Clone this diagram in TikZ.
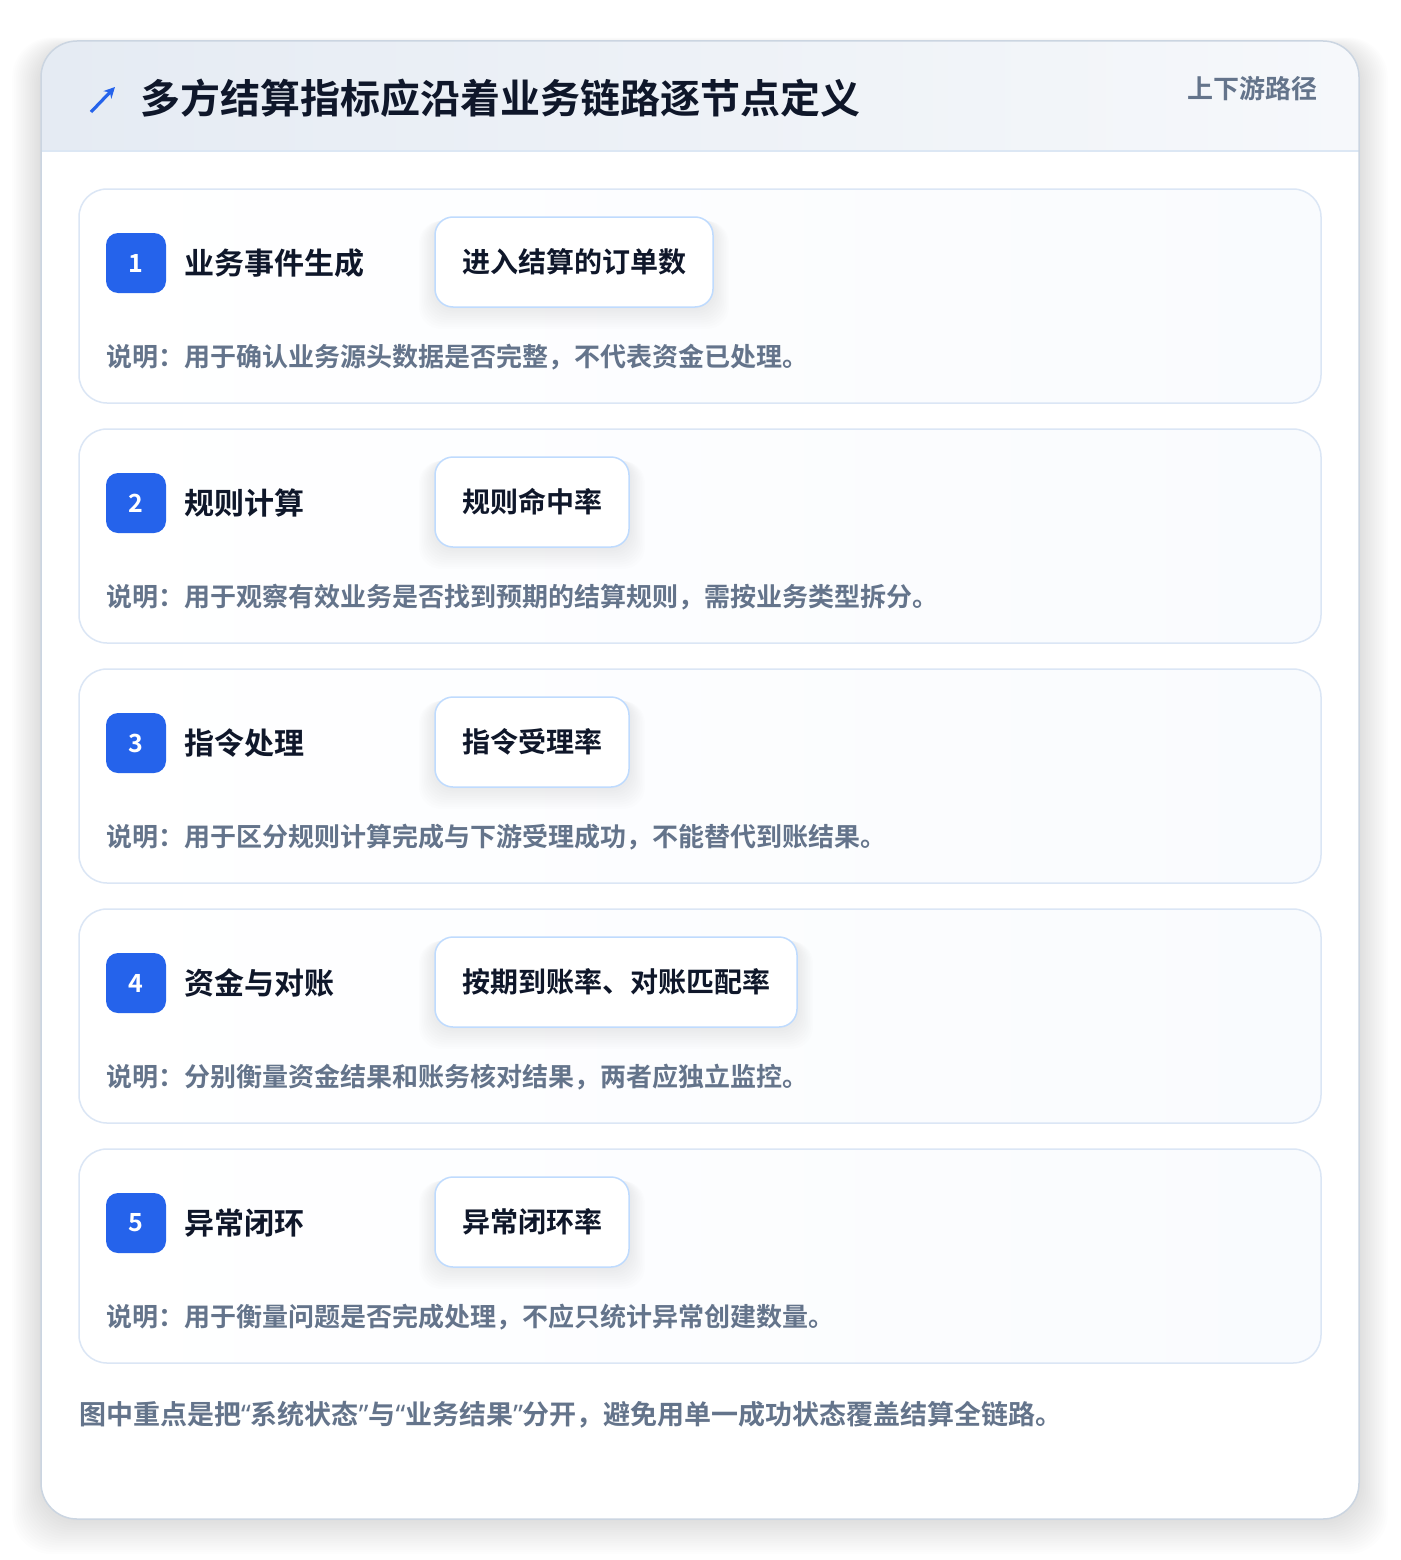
\documentclass[tikz,border=0pt]{standalone}
\usepackage{fontspec}
\setmainfont{Noto Sans CJK SC}[BoldFont={Noto Sans CJK SC Bold}]
\newfontfamily\qf{Noto Sans}
\usetikzlibrary{arrows.meta}
\definecolor{accent}{HTML}{2563EB}
\definecolor{ink}{HTML}{0F172A}
\definecolor{muted}{HTML}{64748B}
\definecolor{cardb}{HTML}{DBE6F5}
\definecolor{outerb}{HTML}{CBD5E1}
\definecolor{metricb}{HTML}{BFDBFE}
\definecolor{hdrL}{HTML}{E5EBF3}
\definecolor{hdrR}{HTML}{F6F8FB}
\definecolor{hdrline}{HTML}{DCE7F4}
\definecolor{cardR}{HTML}{F9FBFE}
\tikzset{
  txt/.style={inner sep=0pt, anchor=west},
  titlefont/.style={font=\fontsize{40}{48}\selectfont\bfseries, text=ink},
  tagfont/.style={font=\fontsize{26}{32}\selectfont\bfseries, text=muted},
  stepfont/.style={font=\fontsize{30}{36}\selectfont\bfseries, text=ink},
  descfont/.style={font=\fontsize{26}{32}\selectfont\bfseries, text=muted},
  footfont/.style={font=\fontsize{27}{32}\selectfont\bfseries, text=muted},
  badge/.style={fill=accent, rounded corners=12pt, minimum width=60pt, minimum height=60pt, inner sep=0pt, text=white, font=\fontsize{25}{30}\selectfont\bfseries},
  metric/.style={draw=metricb, line width=1.5pt, fill=white, rounded corners=18pt, minimum height=90pt, inner sep=0pt, text=ink, font=\fontsize{28}{34}\selectfont\bfseries},
  stepcard/.style={draw=cardb, line width=1.5pt, rounded corners=28pt, left color=white, right color=cardR},
}
\begin{document}
\begin{tikzpicture}[x=1pt,y=-1pt]
\useasboundingbox (0,0) rectangle (1400,1560);
% outer card shadow
\foreach \i in {1,...,16} {
  \fill[black, opacity=0.007, rounded corners=40pt] ({41-1.8*\i},{41-0.6*\i+6}) rectangle ({1359+1.8*\i},{1519+2.2*\i});
}
% outer card
\fill[white, rounded corners=36pt] (41,41) rectangle (1359,1519);
\begin{scope}
  \clip[rounded corners=36pt] (41,41) rectangle (1359,1519);
  \shade[left color=hdrL, right color=hdrR] (41,41) rectangle (1359,151);
  \draw[hdrline, line width=1.5pt] (41,151) -- (1359,151);
\end{scope}
\draw[outerb, line width=1.5pt, rounded corners=36pt] (41,41) rectangle (1359,1519);
% header
\coordinate (ico1) at (91,112);
\coordinate (ico2) at (115,87);
\draw[accent, line width=3.2pt, -{Stealth[length=11pt,width=11pt]}] (ico1) -- (ico2);
\node[txt, titlefont] (title) at (140,98) {多方结算指标应沿着业务链路逐节点定义};
\node[txt, tagfont, anchor=east] (tag) at (1318,89) {上下游路径};
% steps
\foreach \n/\t/\m/\w/\d [count=\k] in {
  1/业务事件生成/进入结算的订单数/278/说明：用于确认业务源头数据是否完整，不代表资金已处理。,
  2/规则计算/规则命中率/194/说明：用于观察有效业务是否找到预期的结算规则，需按业务类型拆分。,
  3/指令处理/指令受理率/194/说明：用于区分规则计算完成与下游受理成功，不能替代到账结果。,
  4/资金与对账/按期到账率、对账匹配率/362/说明：分别衡量资金结果和账务核对结果，两者应独立监控。,
  5/异常闭环/异常闭环率/194/说明：用于衡量问题是否完成处理，不应只统计异常创建数量。} {
  \pgfmathsetmacro{\y}{189+(\k-1)*240}
  \path[stepcard] (79,\y) rectangle (1321,{\y+214});
  \node[badge] (b\k) at (136,{\y+74}) {\n};
  \node[txt, stepfont] (t\k) at (184,{\y+74}) {\t};
  % metric shadow
  \foreach \j in {1,...,10} {
    \fill[black, opacity=0.006, rounded corners=22pt] ({435-1.6*\j},{\y+28+0.4*\j}) rectangle ({435+\w+1.6*\j},{\y+118+2.2*\j});
  }
  \node[metric, minimum width=\w pt] (m\k) at ({435+\w/2},{\y+73}) {\m};
  \node[txt, descfont] (d\k) at (106,{\y+168}) {\d};
}
\node[txt, footfont] (foot) at (79,1415) {图中重点是把{\qf“}系统状态{\qf”}与{\qf“}业务结果{\qf”}分开，避免用单一成功状态覆盖结算全链路。};
\end{tikzpicture}
\end{document}
